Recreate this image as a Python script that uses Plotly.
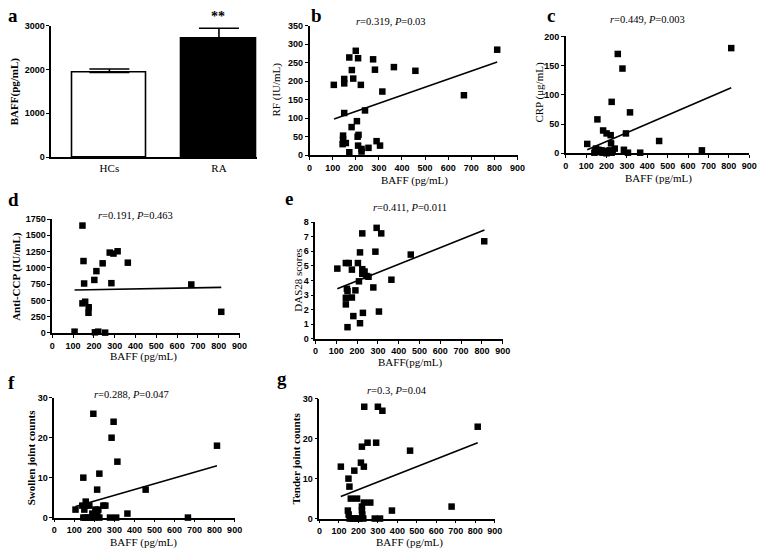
import plotly.graph_objects as go

W, H = 769, 554

# ---------------- data ----------------
bar_groups = ["HCs", "RA"]
bar_means = [1930, 2710]
bar_sem = [80, 230]

b_baff = [105, 150, 150, 172, 200, 210, 183, 189, 222, 275, 283, 365, 458, 315, 812, 668, 150, 240, 205, 182,
          145, 145, 143, 157, 212, 208, 210, 225, 225, 255, 172, 290, 305]
b_rf = [190, 206, 194, 264, 282, 262, 230, 207, 190, 259, 231, 238, 228, 172, 285, 162, 114, 121, 92, 76,
        53, 43, 30, 33, 55, 50, 26, 17, 10, 20, 8, 38, 26]
b_fit_x = [106, 812]
b_fit_y = [98, 252]

c_baff = [812, 255, 278, 225, 315, 155, 183, 200, 220, 295, 105, 458, 222, 240, 285, 668, 145, 150, 160, 170,
          180, 190, 200, 210, 225, 230, 305, 365, 140, 148, 215, 175]
c_crp = [180, 170, 145, 88, 70, 58, 39, 34, 31, 34, 16, 21, 17, 8, 6, 5, 5, 2, 6, 3,
         1, 4, 0, 2, 1, 3, 1, 1, 1, 8, 5, 5]
c_fit_x = [105, 812]
c_fit_y = [6, 112]

d_baff = [145, 150, 153, 145, 158, 175, 174, 107, 202, 212, 242, 276, 294, 314, 284, 363, 668, 812, 205, 221, 254]
d_ccp = [1650, 1105, 760, 455, 480, 395, 310, 20, 815, 950, 1070, 1235, 1220, 1255, 765, 1080, 745, 325, 10, 20, 5]
d_fit_x = [107, 812]
d_fit_y = [660, 700]

e_baff = [105, 146, 160, 175, 146, 151, 154, 146, 154, 175, 182, 192, 204, 214, 209, 214, 225, 225, 225, 228,
          236, 245, 255, 278, 288, 294, 316, 305, 365, 458, 811]
e_das = [4.81, 5.19, 5.19, 4.74, 2.81, 3.43, 3.27, 2.36, 0.8, 2.83, 1.56, 3.32, 5.19, 5.92, 3.94, 1.07, 7.22, 4.77,
         4.45, 1.78, 4.61, 4.3, 4.25, 3.52, 5.97, 7.6, 7.22, 1.87, 4.05, 5.77, 6.68]
e_fit_x = [105, 812]
e_fit_y = [3.43, 7.45]

f_baff = [195, 296, 286, 315, 145, 225, 214, 456, 812, 106, 157, 160, 175, 245, 255, 150, 190, 205, 215, 220,
          180, 365, 278, 309, 667, 145, 155, 170, 200, 225, 140]
f_swollen = [26, 24, 20, 14, 10, 11, 7, 7, 18, 2, 4, 3, 3, 3, 3, 2, 1, 2, 1, 2,
             0, 1, 0, 0, 0, 0, 0, 0, 0, 0, 3]
f_fit_x = [106, 812]
f_fit_y = [2.8, 13]

g_baff = [110, 149, 154, 161, 179, 193, 213, 218, 228, 230, 247, 261, 228, 291, 300, 323, 372, 465, 678, 812,
          146, 150, 155, 218, 218, 220, 284, 311, 170, 180, 195, 205, 225]
g_tender = [13, 10, 8, 5, 12, 5, 14, 18, 13, 28, 19, 4, 4, 19, 28, 27, 2, 17, 3, 23,
            2, 1, 0, 3, 2, 1, 0, 0, 0, 0, 0, 0, 0]
g_fit_x = [110, 812]
g_fit_y = [5.5, 19]

baff_ticks = [0, 100, 200, 300, 400, 500, 600, 700, 800, 900]

# ---------------- helpers ----------------
SERIF = "Liberation Serif, Times New Roman, serif"
SANS = "Liberation Sans, Arial, sans-serif"

def xd(p0, p1):
    return [p0 / W, p1 / W]

def yd(ptop, pbottom):
    return [1 - pbottom / H, 1 - ptop / H]

def axis_style(**kw):
    d = dict(showline=True, linecolor="black", linewidth=1.6, ticks="outside", ticklen=3,
             tickwidth=1.4, tickcolor="black", showgrid=False, zeroline=False,
             tickfont=dict(family=SANS, size=9, color="black", weight="bold"))
    d.update(kw)
    return d

fig = go.Figure()

# panel a
fig.add_trace(go.Bar(x=[0, 1], y=bar_means, width=0.68,
                     marker=dict(color=["white", "black"], line=dict(color="black", width=1.6)),
                     error_y=dict(type="data", array=bar_sem, arrayminus=[0, 0], symmetric=False,
                                  color="black", thickness=1.6, width=20),
                     xaxis="x", yaxis="y", showlegend=False))

panels = [
    ("2", b_baff, b_rf, b_fit_x, b_fit_y),
    ("3", c_baff, c_crp, c_fit_x, c_fit_y),
    ("4", d_baff, d_ccp, d_fit_x, d_fit_y),
    ("5", e_baff, e_das, e_fit_x, e_fit_y),
    ("6", f_baff, f_swollen, f_fit_x, f_fit_y),
    ("7", g_baff, g_tender, g_fit_x, g_fit_y),
]
for k, xs, ys, fx, fy in panels:
    fig.add_trace(go.Scatter(x=xs, y=ys, mode="markers", xaxis="x" + k, yaxis="y" + k,
                             marker=dict(symbol="square", size=6.5, color="black"),
                             cliponaxis=False, showlegend=False))
    fig.add_trace(go.Scatter(x=fx, y=fy, mode="lines", xaxis="x" + k, yaxis="y" + k,
                             line=dict(color="black", width=1.6), showlegend=False))

lay = dict(width=W, height=H, margin=dict(l=0, r=0, t=0, b=0),
           paper_bgcolor="white", plot_bgcolor="white", bargap=0)

# a
lay["xaxis"] = axis_style(domain=xd(49, 258), range=[-0.53, 1.35], tickvals=[0, 1], ticktext=bar_groups,
                          ticks="", tickfont=dict(family=SERIF, size=11, color="black"), anchor="y")
lay["yaxis"] = axis_style(domain=yd(21, 155), range=[0, 3000], tickvals=[0, 1000, 2000, 3000], anchor="x")
# b
lay["xaxis2"] = axis_style(domain=xd(311, 522), range=[0, 900], tickvals=baff_ticks, anchor="y2")
lay["yaxis2"] = axis_style(domain=yd(21, 153), range=[0, 350], tickvals=list(range(0, 351, 50)), anchor="x2")
# c
lay["xaxis3"] = axis_style(domain=xd(571, 757), range=[0, 900], tickvals=baff_ticks, anchor="y3")
lay["yaxis3"] = axis_style(domain=yd(32, 151), range=[0, 200], tickvals=[0, 50, 100, 150, 200], anchor="x3")
# d
lay["xaxis4"] = axis_style(domain=xd(50, 240), range=[0, 900], tickvals=baff_ticks, anchor="y4")
lay["yaxis4"] = axis_style(domain=yd(218, 334), range=[0, 1750], tickvals=list(range(0, 1751, 250)), anchor="x4")
# e
lay["xaxis5"] = axis_style(domain=xd(317, 507), range=[0, 900], tickvals=baff_ticks, anchor="y5")
lay["yaxis5"] = axis_style(domain=yd(221, 340), range=[0, 8], tickvals=list(range(0, 9)), anchor="x5")
# f
lay["xaxis6"] = axis_style(domain=xd(52, 235), range=[0, 900], tickvals=baff_ticks, anchor="y6")
lay["yaxis6"] = axis_style(domain=yd(400, 522), range=[0, 30], tickvals=[0, 10, 20, 30], anchor="x6")
# g
lay["xaxis7"] = axis_style(domain=xd(321, 499), range=[0, 900], tickvals=baff_ticks, anchor="y7")
lay["yaxis7"] = axis_style(domain=yd(401, 523), range=[0, 30], tickvals=[0, 10, 20, 30], anchor="x7")

fig.update_layout(**lay)

def txt(x, y, s, size=11, bold=False, angle=0):
    fig.add_annotation(x=x / W, y=1 - y / H, xref="paper", yref="paper", text=s, showarrow=False,
                       textangle=angle, xanchor="center", yanchor="middle",
                       font=dict(family=SERIF, size=size, color="black",
                                 weight="bold" if bold else "normal"))

# panel letters
txt(10, 11, "a", size=19, bold=True)
txt(318, 11, "b", size=19, bold=True)
txt(556, 11, "c", size=19, bold=True)
txt(11, 198, "d", size=19, bold=True)
txt(290, 197, "e", size=19, bold=True)
txt(9, 384, "f", size=19, bold=True)
txt(283, 380, "g", size=19, bold=True)

# stats annotations
txt(218, 12, "**", size=14, bold=True)
txt(394, 17, "<i>r</i>=0.319, <i>P</i>=0.03", size=10.5)
txt(654, 15, "<i>r</i>=0.449, <i>P</i>=0.003", size=10.5)
txt(134, 214, "<i>r</i>=0.191, <i>P</i>=0.463", size=10.5)
txt(413, 206, "<i>r</i>=0.411, <i>P</i>=0.011", size=10.5)
txt(130, 397, "<i>r</i>=0.288, <i>P</i>=0.047", size=10.5)
txt(400, 393, "<i>r</i>=0.3, <i>P</i>=0.04", size=10.5)

# axis titles
txt(12, 88, "BAFF(pg/mL)", size=11, bold=True, angle=-90)
txt(277, 86, "RF (IU/mL)", size=11, angle=-90)
txt(417, 179, "BAFF (pg/mL)", size=11)
txt(544, 89, "CRP (μg/mL)", size=11, angle=-90)
txt(665, 177, "BAFF (pg/mL)", size=11)
txt(13, 276, "Anti-CCP (IU/mL)", size=11, bold=True, angle=-90)
txt(143, 358, "BAFF (pg/mL)", size=11)
txt(299, 280, "DAS28 scores", size=11, angle=-90)
txt(413, 364, "BAFF(pg/mL)", size=11)
txt(28, 461, "Swollen joint counts", size=11, bold=True, angle=-90)
txt(143, 547, "BAFF (pg/mL)", size=11)
txt(297, 462, "Tender joint counts", size=11, bold=True, angle=-90)
txt(412, 547, "BAFF (pg/mL)", size=11)

fig.write_html("out.html", config={"displayModeBar": False},
               post_script="document.body.style.margin='0px';document.body.style.overflow='hidden';")
